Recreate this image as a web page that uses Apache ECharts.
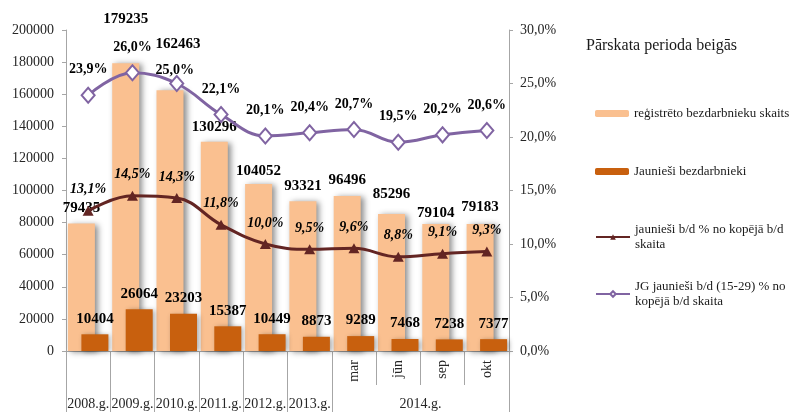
<!DOCTYPE html>
<html>
<head>
<meta charset="utf-8">
<script src="https://cdn.jsdelivr.net/npm/echarts@6/dist/echarts.min.js"></script>
<style>html,body{margin:0;padding:0;background:#fff}#c{width:793px;height:412px}</style>
</head>
<body>
<div id="c"></div>
<script>
const categories = ['2008.g.','2009.g.','2010.g.','2011.g.','2012.g.','2013.g.','mar','jūn','sep','okt'];
const groupLabel = '2014.g.';
const groupStart = 6;
const registered = [79435,179235,162463,130296,104052,93321,96496,85296,79104,79183];
const youth = [10404,26064,23203,15387,10449,8873,9289,7468,7238,7377];
const youthShare = [13.1,14.5,14.3,11.8,10.0,9.5,9.6,8.8,9.1,9.3];
const jgShare = [23.9,26.0,25.0,22.1,20.1,20.4,20.7,19.5,20.2,20.6];
const leftMax = 200000, leftStep = 20000;
const rightMax = 30, rightStep = 5;
const seriesNames = ['reģistrēto bezdarbnieku skaits','Jaunieši bezdarbnieki','jaunieši b/d % no kopējā b/d skaita','JG jaunieši b/d (15-29) % no kopējā b/d skaita'];
const chartTitle = 'Pārskata perioda beigās';

// label nudges (style only)
const regLabelShift = [[0,-3],[0,-32],[8,-34],[0,-2],[0,0],[0,-3],[0,-3],[0,-7],[0,2],[0,-4]];
const jgLabelShift = [[0,0],[0,0],[-2,12],[0,0],[0,0],[0,0],[0,0],[0,0],[0,0],[0,0]];

const FONT = '"Liberation Serif", "Times New Roman", serif';
const pct = v => (typeof v === 'object' ? v.value : v).toFixed(1).replace('.', ',') + '%';
const wrap = (s, max) => {
  const lines = []; let cur = '';
  s.split(' ').forEach(w => {
    const t = cur ? cur + ' ' + w : w;
    if (t.length > max && cur) { lines.push(cur); cur = w; } else cur = t;
  });
  if (cur) lines.push(cur);
  return lines.join('\n');
};

// secondary bottom axis: 2*n+1 slots on boundaries / centers
const n = categories.length;
const slots = [];
for (let k = 0; k <= 2 * n; k++) slots.push('');
categories.forEach((c, i) => { if (i < groupStart) slots[2 * i + 1] = c; });
slots[groupStart + n] = groupLabel;

const chart = echarts.init(document.getElementById('c'), null, {renderer: 'canvas'});
const tickColor = '#a6a6a6';
const legendBase = {
  orient: 'vertical', left: 590, itemWidth: 34, itemHeight: 7,
  textStyle: {fontFamily: FONT, fontSize: 13, color: '#1a1a1a', lineHeight: 15},
  formatter: name => wrap(name, 30),
  selectedMode: false
};
chart.setOption({
  animation: false,
  title: {text: chartTitle, left: 581, top: 33, textStyle: {fontFamily: FONT, fontSize: 16, fontWeight: 'normal', color: '#1a1a1a'}},
  legend: [
    Object.assign({}, legendBase, {top: 101, data: [seriesNames[0]]}),
    Object.assign({}, legendBase, {top: 159, data: [seriesNames[1]]}),
    Object.assign({}, legendBase, {top: 217, data: [seriesNames[2]]}),
    Object.assign({}, legendBase, {top: 274, data: [seriesNames[3]]})
  ],
  grid: {left: 66, right: 284, top: 30, bottom: 61},
  xAxis: [
    {
      type: 'category', data: categories, position: 'bottom', offset: 0,
      axisLine: {lineStyle: {color: tickColor, width: 1}},
      axisTick: {show: true, interval: 0, length: 34, lineStyle: {color: tickColor}},
      axisLabel: {interval: 0, rotate: 90, margin: 9, fontFamily: FONT, fontSize: 14, color: '#262626',
        formatter: (v, i) => i >= groupStart ? v : ''}
    },
    {
      type: 'category', data: slots, boundaryGap: false, position: 'bottom', offset: 0,
      axisLine: {show: false},
      axisTick: {show: true, length: 61, lineStyle: {color: tickColor},
        interval: (i) => i % 2 === 0 && (i / 2 <= groupStart || i / 2 === n)},
      axisLabel: {interval: 0, margin: 46, fontFamily: FONT, fontSize: 14, color: '#262626'}
    }
  ],
  yAxis: [
    {
      type: 'value', min: 0, max: leftMax, interval: leftStep,
      axisLine: {show: true, lineStyle: {color: tickColor}},
      axisTick: {show: true, length: 4, lineStyle: {color: tickColor}},
      splitLine: {show: false},
      axisLabel: {margin: 12, fontFamily: FONT, fontSize: 14, color: '#262626', formatter: v => String(v)}
    },
    {
      type: 'value', min: 0, max: rightMax, interval: rightStep, position: 'right',
      axisLine: {show: true, lineStyle: {color: tickColor}},
      axisTick: {show: true, length: 4, lineStyle: {color: tickColor}},
      splitLine: {show: false},
      axisLabel: {margin: 11, fontFamily: FONT, fontSize: 14, color: '#262626', formatter: v => v.toFixed(1).replace('.', ',') + '%'}
    }
  ],
  series: [
    {
      name: seriesNames[0], type: 'bar', barWidth: 27, barGap: '-50%', z: 2,
      itemStyle: {color: '#FAC090', shadowColor: 'rgba(0,0,0,0.45)', shadowBlur: 6, shadowOffsetX: 3, shadowOffsetY: 1},
      label: {show: true, position: 'top', distance: 5, fontFamily: FONT, fontSize: 15, fontWeight: 'bold', color: '#000'},
      data: registered.map((v, i) => ({value: v, label: {offset: regLabelShift[i]}}))
    },
    {
      name: seriesNames[1], type: 'bar', barWidth: 27, barGap: '-50%', z: 3,
      itemStyle: {color: '#C8600E', shadowColor: 'rgba(0,0,0,0.35)', shadowBlur: 5, shadowOffsetX: 2, shadowOffsetY: 1},
      label: {show: true, position: 'top', distance: 8, fontFamily: FONT, fontSize: 15, fontWeight: 'bold', color: '#000'},
      data: youth
    },
    {
      name: seriesNames[2], type: 'line', yAxisIndex: 1, smooth: 0.4, z: 5,
      symbol: 'triangle', symbolSize: [11, 10],
      lineStyle: {color: '#632523', width: 3},
      itemStyle: {color: '#632523'},
      label: {show: true, position: 'top', distance: 9, fontFamily: FONT, fontSize: 14, fontWeight: 'bold', fontStyle: 'italic', color: '#000', formatter: p => pct(p.value)},
      data: youthShare
    },
    {
      name: seriesNames[3], type: 'line', yAxisIndex: 1, smooth: 0.4, z: 6,
      symbol: 'diamond', symbolSize: [13, 15],
      lineStyle: {color: '#8064A2', width: 3},
      itemStyle: {color: '#ffffff', borderColor: '#8064A2', borderWidth: 2},
      label: {show: true, position: 'top', distance: 10, fontFamily: FONT, fontSize: 14, fontWeight: 'bold', color: '#000', formatter: p => pct(p.value)},
      data: jgShare.map((v, i) => ({value: v, label: {offset: jgLabelShift[i]}}))
    }
  ]
});
</script>
</body>
</html>
